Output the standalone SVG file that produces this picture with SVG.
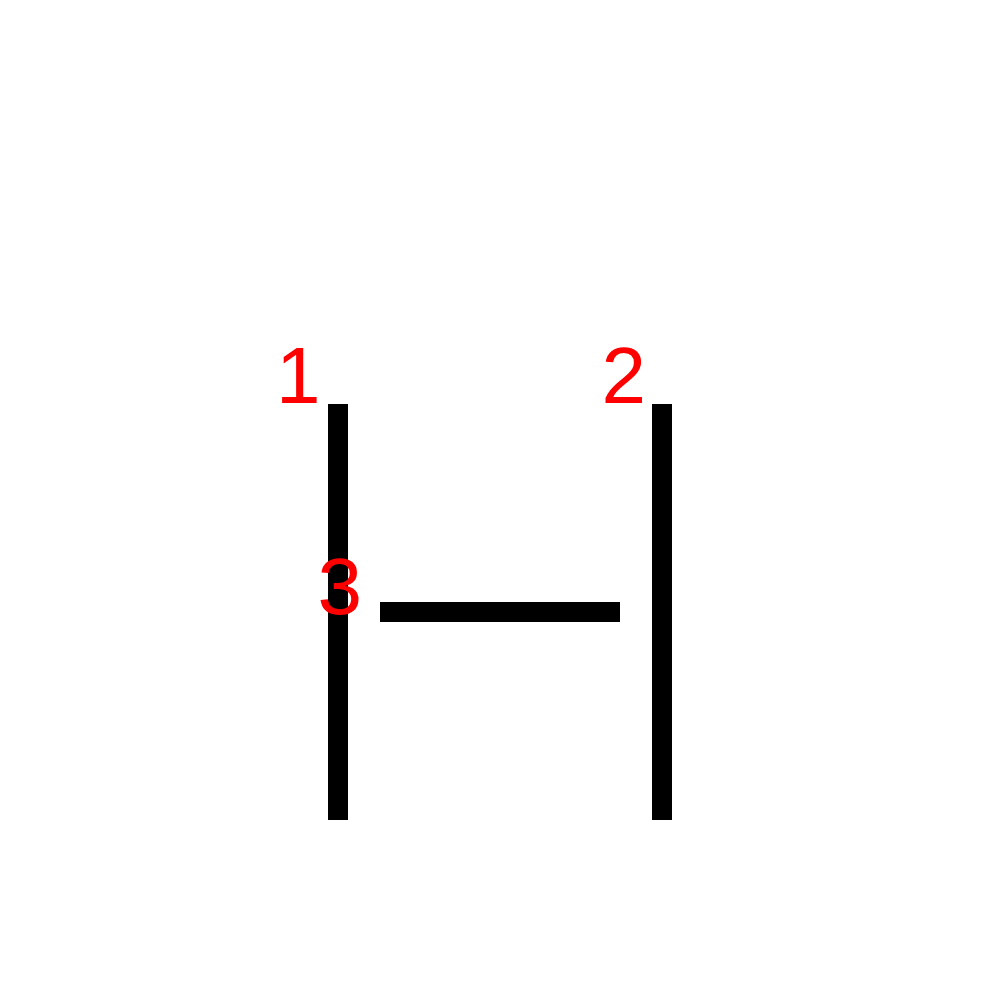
<svg xmlns="http://www.w3.org/2000/svg" width="1000" height="1000" viewBox="0 0 1000 1000">
<style>
.stroke{stroke:#000;stroke-width:20;fill:none}
.lbl{font-family:"Liberation Sans",Arial,sans-serif;font-size:80px;fill:#ff0000}
</style>
<rect width="1000" height="1000" fill="#fff"/>
<g id="connectors">
<line id="line1" class="stroke" x1="338" y1="404" x2="338" y2="820"/>
<line id="line2" class="stroke" x1="662" y1="404" x2="662" y2="820"/>
<line id="line3" class="stroke" x1="380" y1="612" x2="620" y2="612"/>
</g>
<g id="label1"><text class="lbl" x="276" y="403">1</text></g>
<g id="label2"><text class="lbl" x="601.5" y="403">2</text></g>
<g id="label3"><text class="lbl" x="317.5" y="614">3</text></g>
</svg>
